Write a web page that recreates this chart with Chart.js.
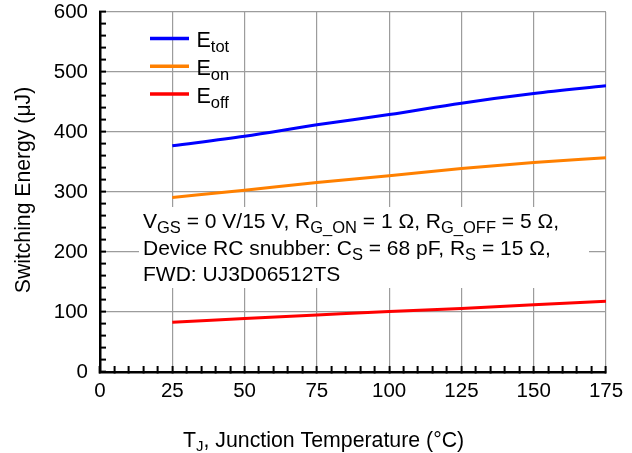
<!DOCTYPE html>
<html><head><meta charset="utf-8">
<script src="https://cdn.jsdelivr.net/npm/chart.js@4/dist/chart.umd.min.js"></script>
<style>html,body{margin:0;padding:0;background:#fff;} #wrap{width:632px;height:453px;position:relative;}</style>
</head><body><div id="wrap"><canvas id="c"></canvas></div>
<script>
// ---- data ----
const temperatures = [25, 50, 75, 100, 125, 150, 175];
const eTot = [377, 393, 412, 429, 448, 464, 477];
const eOn  = [291, 303, 316, 327, 339, 349, 357];
const eOff = [83, 89, 95, 101, 106, 112, 118];
const seriesMain = ['E', 'E', 'E'];
const seriesSub = ['tot', 'on', 'off'];
const seriesColors = ['#0000ff', '#ff8000', '#ff0000'];
const xMajorTicks = [0, 25, 50, 75, 100, 125, 150, 175];
const yMajorTicks = [0, 100, 200, 300, 400, 500, 600];
const annotationLines = [
  [['V', 0], ['GS', 1], [' = 0 V/15 V, R', 0], ['G_ON', 1], [' = 1 \u03A9, R', 0], ['G_OFF', 1], [' = 5 \u03A9,', 0]],
  [['Device RC snubber: C', 0], ['S', 1], [' = 68 pF, R', 0], ['S', 1], [' = 15 \u03A9,', 0]],
  [['FWD: UJ3D06512TS', 0]]
];
const xTitle = [['T', 0], ['J', 1], [', Junction Temperature (\u00B0C)', 0]];
const yTitle = 'Switching Energy (\u03BCJ)';

const FONT = "'Liberation Sans', Arial, Helvetica, sans-serif";
Chart.defaults.font.family = FONT;
Chart.defaults.color = '#000';

function drawRich(ctx, parts, x, y, size, subSize, drop) {
  ctx.textBaseline = 'alphabetic';
  ctx.textAlign = 'left';
  let cx = x;
  for (const [txt, sub] of parts) {
    ctx.font = (sub ? subSize : size) + 'px ' + FONT;
    ctx.fillText(txt, cx, sub ? y + drop : y);
    cx += ctx.measureText(txt).width;
  }
  return cx;
}

const decor = {
  id: 'decor',
  beforeDatasetsDraw(chart) {
    const ctx = chart.ctx;
    ctx.save();
    ctx.fillStyle = '#fff';
    ctx.fillRect(139, 207, 450, 81);
    ctx.restore();
  },
  afterDraw(chart) {
    const ctx = chart.ctx;
    ctx.save();
    ctx.fillStyle = '#000';
    // legend
    chart.data.datasets.forEach((ds, i) => {
      const y = 38.5 + i * 27.8;
      ctx.strokeStyle = ds.borderColor;
      ctx.lineWidth = 3.5;
      ctx.lineCap = 'butt';
      ctx.beginPath(); ctx.moveTo(150, y); ctx.lineTo(189, y); ctx.stroke();
      ctx.fillStyle = '#000';
      drawRich(ctx, [[seriesMain[i], 0], [seriesSub[i], 1]], 196.5, y + 8.5, 21.5, 16.5, 5);
    });
    // annotation
    const bases = [228, 254.5, 281];
    annotationLines.forEach((parts, i) => drawRich(ctx, parts, 143, bases[i], 21, 16.5, 5));
    // x title
    drawRich(ctx, xTitle, 183, 447, 21.3, 15, 4);
    // y title
    ctx.translate(29.5, 190);
    ctx.rotate(-Math.PI / 2);
    ctx.font = '21.2px ' + FONT;
    ctx.textAlign = 'center';
    ctx.textBaseline = 'alphabetic';
    ctx.fillText(yTitle, 0, 0);
    ctx.restore();
  }
};

const mkDs = (label, data, color) => ({
  label, data: temperatures.map((t, i) => ({x: t, y: data[i]})),
  borderColor: color, backgroundColor: color, borderWidth: 3,
  pointRadius: 0, cubicInterpolationMode: 'monotone', fill: false
});

new Chart(document.getElementById('c'), {
  type: 'line',
  data: {
    datasets: [
      mkDs('Etot', eTot, seriesColors[0]),
      mkDs('Eon', eOn, seriesColors[1]),
      mkDs('Eoff', eOff, seriesColors[2])
    ]
  },
  options: {
    responsive: true, maintainAspectRatio: false, animation: false,
    layout: {padding: {left: 0, top: 12, right: 26, bottom: 0}},
    plugins: {legend: {display: false}, tooltip: {enabled: false}},
    scales: {
      x: {
        type: 'linear', min: 0, max: 175,
        afterFit: s => { s.height = 81; s.paddingLeft = 0; s.paddingRight = 0; },
        ticks: {
          stepSize: 5, autoSkip: false, maxRotation: 0, padding: 13,
          font: {size: 20.5},
          callback: v => xMajorTicks.includes(v) ? String(v) : ''
        },
        grid: {
          color: c => xMajorTicks.includes(c.tick && c.tick.value) ? '#9c9c9c' : 'rgba(0,0,0,0)',
          lineWidth: 1.2, tickLength: -6, tickColor: '#000', tickWidth: 2
        },
        border: {color: '#000', width: 2.5}
      },
      y: {
        min: 0, max: 600,
        afterFit: s => { s.width = 100; s.paddingTop = 0; s.paddingBottom = 0; },
        ticks: {
          stepSize: 20, autoSkip: false, padding: 18,
          font: {size: 20.5},
          callback: v => yMajorTicks.includes(v) ? String(v) : ''
        },
        grid: {
          color: c => yMajorTicks.includes(c.tick && c.tick.value) ? '#9c9c9c' : 'rgba(0,0,0,0)',
          lineWidth: 1.2, tickLength: -6, tickColor: '#000', tickWidth: 2
        },
        border: {color: '#000', width: 2.5}
      }
    }
  },
  plugins: [decor]
});
</script></body></html>
